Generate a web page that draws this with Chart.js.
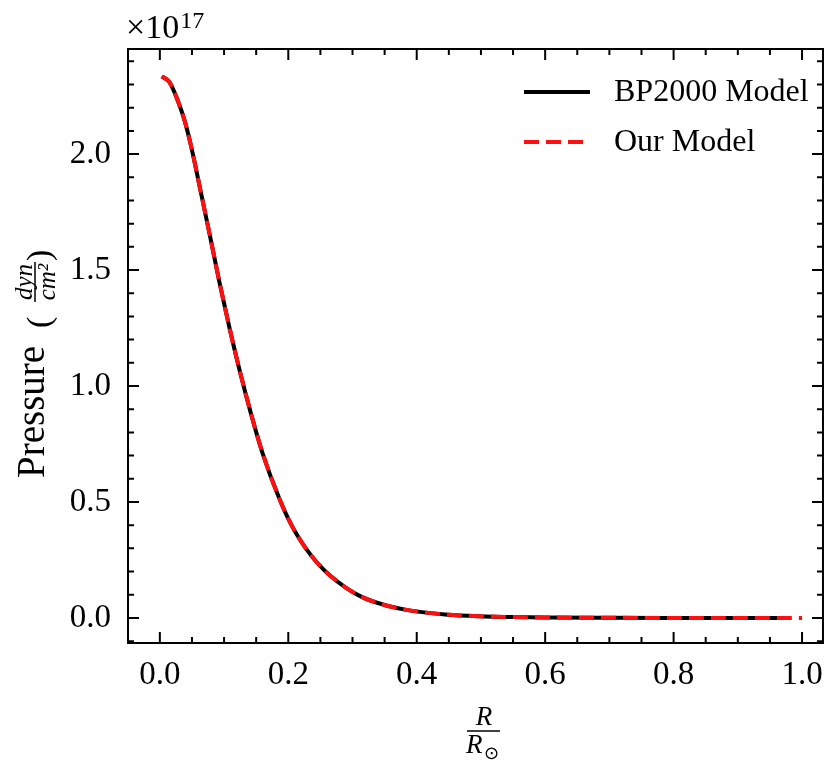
<!DOCTYPE html>
<html>
<head>
<meta charset="utf-8">
<script src="https://cdn.jsdelivr.net/npm/chart.js@4.4.0/dist/chart.umd.min.js"></script>
<style>
  html, body { margin: 0; padding: 0; background: #fff; }
  #wrap { width: 836px; height: 764px; }
</style>
</head>
<body>
<div id="wrap"><canvas id="chart" width="836" height="764"></canvas></div>
<script>
// values, pressure in units of 1e17 dyn/cm^2
const bpRadius   = [0.003, 0.015, 0.028, 0.039, 0.049, 0.062, 0.0775, 0.093, 0.1085, 0.124, 0.142, 0.160, 0.186, 0.205, 0.227, 0.245, 0.264, 0.290, 0.315, 0.350, 0.382, 0.415, 0.444, 0.496, 0.550, 0.600, 0.700, 0.800, 0.900, 0.963];
const bpPressure = [2.335, 2.31, 2.23, 2.14, 2.03, 1.86, 1.655, 1.445, 1.25, 1.07, 0.88, 0.71, 0.515, 0.40, 0.301, 0.238, 0.185, 0.130, 0.090, 0.056, 0.036, 0.023, 0.015, 0.0075, 0.0036, 0.0018, 0.0005, 0.0001, 0.00002, 0.0];
const ourRadius   = [0.003, 0.015, 0.028, 0.039, 0.049, 0.062, 0.0775, 0.093, 0.1085, 0.124, 0.142, 0.160, 0.186, 0.205, 0.227, 0.245, 0.264, 0.290, 0.315, 0.350, 0.382, 0.415, 0.444, 0.496, 0.550, 0.600, 0.700, 0.800, 0.900, 1.000];
const ourPressure = [2.335, 2.31, 2.23, 2.14, 2.03, 1.86, 1.655, 1.445, 1.25, 1.07, 0.88, 0.71, 0.515, 0.40, 0.301, 0.238, 0.185, 0.130, 0.090, 0.056, 0.036, 0.023, 0.015, 0.0075, 0.0036, 0.0018, 0.0005, 0.0001, 0.00002, 0.0];

const xTicks = [0.0, 0.2, 0.4, 0.6, 0.8, 1.0];
const yTicks = [0.0, 0.5, 1.0, 1.5, 2.0];
const xMinorStep = 0.05;
const yMinorStep = 0.1;

const SERIF = '"Liberation Serif", "Times New Roman", serif';

function pts(xs, ys) {
    return xs.map((x, i) => ({ x: x, y: ys[i] }));
}

// рамка, внутренние засечки, подписи осей и легенда
const decor = {
    id: 'decor',
    afterDraw(chart) {
        const ctx = chart.ctx;
        const a = chart.chartArea;
        const xs = chart.scales.x, ys = chart.scales.y;
        ctx.save();
        ctx.strokeStyle = '#000';
        ctx.lineWidth = 2;
        ctx.strokeRect(a.left, a.top, a.right - a.left, a.bottom - a.top);

        // x ticks (bottom + top)
        for (let v = -0.05; v <= 1.05 + 1e-9; v += xMinorStep) {
            const px = xs.getPixelForValue(v);
            if (px < a.left + 1 || px > a.right - 1) continue;
            const major = xTicks.some(t => Math.abs(t - v) < 1e-6);
            const len = major ? 11 : 6;
            ctx.beginPath();
            ctx.moveTo(px, a.bottom); ctx.lineTo(px, a.bottom - len);
            ctx.moveTo(px, a.top); ctx.lineTo(px, a.top + len);
            ctx.stroke();
        }
        // y ticks (left + right)
        for (let v = -0.1; v <= 2.5 + 1e-9; v += yMinorStep) {
            const py = ys.getPixelForValue(v);
            if (py < a.top + 1 || py > a.bottom - 1) continue;
            const major = yTicks.some(t => Math.abs(t - v) < 1e-6);
            const len = major ? 11 : 6;
            ctx.beginPath();
            ctx.moveTo(a.left, py); ctx.lineTo(a.left + len, py);
            ctx.moveTo(a.right, py); ctx.lineTo(a.right - len, py);
            ctx.stroke();
        }

        ctx.fillStyle = '#000';
        ctx.textBaseline = 'alphabetic';

        // offset text ×10^17
        ctx.font = '34px ' + SERIF;
        ctx.textAlign = 'left';
        ctx.fillText('\u00d710', 126, 38);
        const w10 = ctx.measureText('\u00d710').width;
        ctx.font = '24px ' + SERIF;
        ctx.fillText('17', 126 + w10 + 1, 28);

        // y title
        ctx.save();
        ctx.translate(44, 478);
        ctx.rotate(-Math.PI / 2);
        ctx.font = '39px ' + SERIF;
        ctx.fillText('Pressure', 0, 0);
        ctx.font = '34px ' + SERIF;
        ctx.fillText('(', 150, 6);
        ctx.fillText(')', 217, 6);
        ctx.font = 'italic 25px ' + SERIF;
        ctx.textAlign = 'center';
        ctx.fillText('dyn', 196, -12);
        ctx.fillText('cm\u00b2', 196, 11);
        ctx.lineWidth = 1.5;
        ctx.beginPath();
        ctx.moveTo(176, -9); ctx.lineTo(216, -9);
        ctx.stroke();
        ctx.restore();

        // x title R / R_sun
        ctx.font = 'italic 27px ' + SERIF;
        ctx.textAlign = 'center';
        ctx.fillText('R', 484, 725);
        ctx.lineWidth = 1.5;
        ctx.beginPath();
        ctx.moveTo(467, 731); ctx.lineTo(500, 731);
        ctx.stroke();
        ctx.textAlign = 'left';
        ctx.fillText('R', 466, 753);
        ctx.font = '18px "DejaVu Sans", sans-serif';
        ctx.fillText('\u2299', 484, 759);

        // legend
        chart.data.datasets.forEach((ds, i) => {
            const y = 92 + i * 50;
            ctx.strokeStyle = ds.borderColor;
            ctx.lineWidth = ds.borderWidth;
            ctx.setLineDash(ds.borderDash || []);
            ctx.beginPath();
            ctx.moveTo(524, y); ctx.lineTo(590, y);
            ctx.stroke();
            ctx.setLineDash([]);
            ctx.font = '32px ' + SERIF;
            ctx.textAlign = 'left';
            ctx.textBaseline = 'middle';
            ctx.fillStyle = '#000';
            ctx.fillText(ds.label, 614, y + 1);
        });
        ctx.restore();
    }
};

new Chart(document.getElementById('chart'), {
    type: 'line',
    data: {
        datasets: [
            {
                label: 'BP2000 Model',
                data: pts(bpRadius, bpPressure),
                borderColor: '#000000',
                borderWidth: 4,
                pointRadius: 0,
                cubicInterpolationMode: 'monotone',
                order: 2
            },
            {
                label: 'Our Model',
                data: pts(ourRadius, ourPressure),
                borderColor: '#ff1010',
                borderWidth: 4,
                borderDash: [15, 7],
                pointRadius: 0,
                cubicInterpolationMode: 'monotone',
                order: 1
            }
        ]
    },
    options: {
        responsive: false,
        animation: false,
        devicePixelRatio: 1,
        layout: { padding: { top: 49, right: 11, left: 0, bottom: 0 } },
        plugins: {
            legend: { display: false },
            tooltip: { enabled: false }
        },
        scales: {
            x: {
                type: 'linear',
                min: -0.0496,
                max: 1.0326,
                afterBuildTicks: s => { s.ticks = xTicks.map(v => ({ value: v })); },
                afterFit: s => { s.height = 121; },
                grid: { display: false, drawTicks: false },
                border: { display: false },
                ticks: {
                    color: '#000',
                    font: { family: SERIF, size: 33 },
                    padding: 13,
                    maxRotation: 0,
                    autoSkip: false,
                    callback: v => v.toFixed(1)
                }
            },
            y: {
                type: 'linear',
                min: -0.108,
                max: 2.453,
                afterBuildTicks: s => { s.ticks = yTicks.map(v => ({ value: v })); },
                afterFit: s => { s.width = 128; },
                grid: { display: false, drawTicks: false },
                border: { display: false },
                ticks: {
                    color: '#000',
                    font: { family: SERIF, size: 33 },
                    padding: 17,
                    autoSkip: false,
                    callback: v => v.toFixed(1)
                }
            }
        }
    },
    plugins: [decor]
});
</script>
</body>
</html>
